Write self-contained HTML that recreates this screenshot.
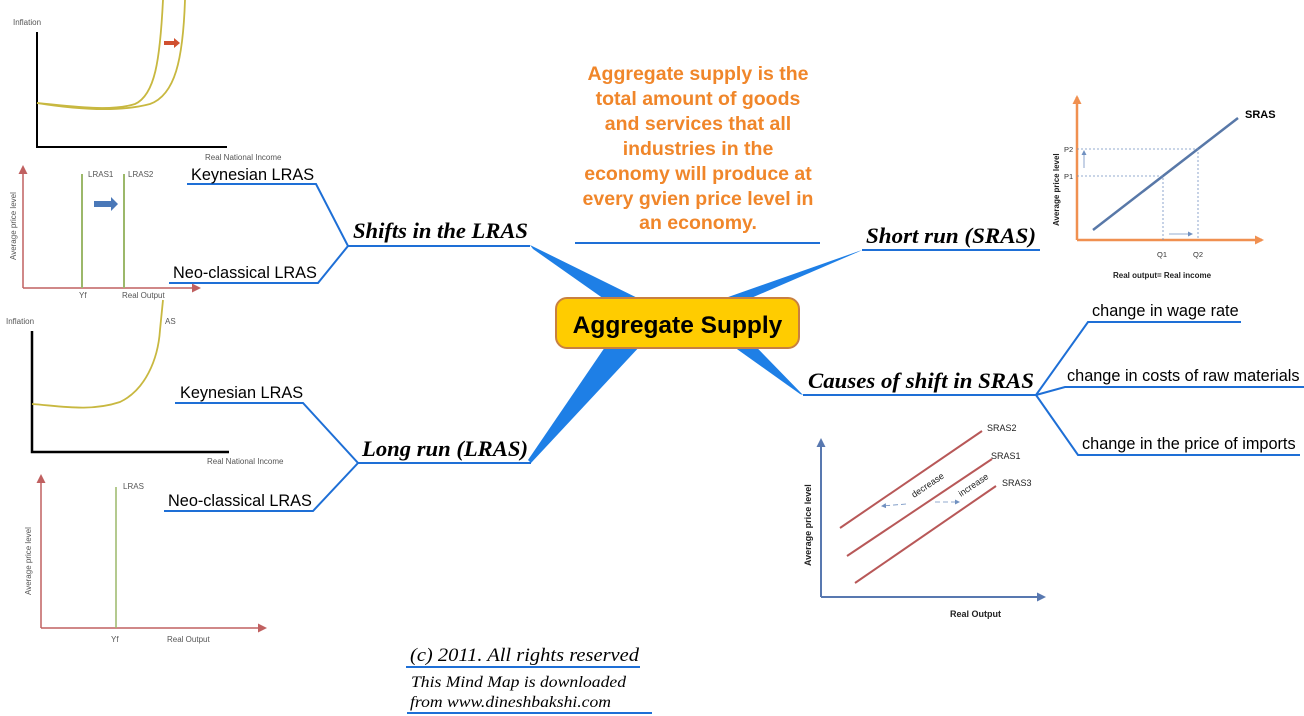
<!DOCTYPE html>
<html><head><meta charset="utf-8"><style>
html,body{margin:0;padding:0;background:#fff;}
svg{display:block;}
.s{font-family:"Liberation Sans",sans-serif;}
.t{font-family:"Liberation Serif",serif;font-style:italic;font-weight:bold;font-size:22.5px;fill:#000;}
.sub{font-family:"Liberation Sans",sans-serif;font-size:16.3px;fill:#000;}
.sm{font-family:"Liberation Sans",sans-serif;font-size:8px;fill:#555;}
.or{font-family:"Liberation Sans",sans-serif;font-weight:bold;font-size:19.5px;fill:#f0862a;}
</style></head><body>
<svg width="1304" height="716" viewBox="0 0 1304 716" xmlns="http://www.w3.org/2000/svg">
<defs>
<marker id="ar" markerUnits="userSpaceOnUse" markerWidth="9" markerHeight="9" refX="7" refY="4.5" orient="auto"><path d="M0,0 L9,4.5 L0,9 z" fill="context-stroke"/></marker>
<marker id="as" markerUnits="userSpaceOnUse" markerWidth="5" markerHeight="5" refX="4" refY="2.5" orient="auto"><path d="M0,0 L5,2.5 L0,5 z" fill="context-stroke"/></marker>
</defs>
<g fill="#1e7fe6">
<polygon points="530,245 533,249 648,330 662,310"/>
<polygon points="862,250 858,252 700,320 714,302"/>
<polygon points="531,463 528,460 618,328 642,344"/>
<polygon points="803,395 800,394 713,332 730,320"/>
</g>
<g stroke="#1e6fd6" stroke-width="2" fill="none">
<polyline points="348,246 530,246"/>
<polyline points="187,184 316,184 348,246 318,283 169,283"/>
<polyline points="862,250 1040,250"/>
<polyline points="358,463 531,463"/>
<polyline points="175,403 303,403 358,463 313,511 164,511"/>
<polyline points="803,395 1036,395"/>
<polyline points="1036,395 1088,322 1241,322"/>
<polyline points="1036,395 1065,387 1304,387"/>
<polyline points="1036,395 1078,455 1300,455"/>
<line x1="575" y1="243" x2="820" y2="243"/>
<line x1="406" y1="667" x2="640" y2="667"/>
<line x1="407" y1="713" x2="652" y2="713"/>
</g>
<rect x="556" y="298" width="243" height="50" rx="11" fill="#ffcc00" stroke="#c88040" stroke-width="2"/>
<text x="677.5" y="333" text-anchor="middle" class="s" font-weight="bold" font-size="24.5" fill="#000">Aggregate Supply</text>
<text x="353" y="238" class="t" textLength="175" lengthAdjust="spacingAndGlyphs">Shifts in the LRAS</text>
<text x="866" y="243" class="t" textLength="170" lengthAdjust="spacingAndGlyphs">Short run (SRAS)</text>
<text x="362" y="456" class="t" textLength="166" lengthAdjust="spacingAndGlyphs">Long run (LRAS)</text>
<text x="808" y="388" class="t" textLength="226" lengthAdjust="spacingAndGlyphs">Causes of shift in SRAS</text>
<text x="191" y="180" class="sub">Keynesian LRAS</text>
<text x="173" y="278" class="sub">Neo-classical LRAS</text>
<text x="180" y="398" class="sub">Keynesian LRAS</text>
<text x="168" y="506" class="sub">Neo-classical LRAS</text>
<text x="1092" y="316" class="sub">change in wage rate</text>
<text x="1067" y="381" class="sub">change in costs of raw materials</text>
<text x="1082" y="449" class="sub">change in the price of imports</text>
<g class="or" text-anchor="middle">
<text x="698" y="80">Aggregate supply is the</text>
<text x="698" y="105">total amount of goods</text>
<text x="698" y="130">and services that all</text>
<text x="698" y="155">industries in the</text>
<text x="698" y="180">economy will produce at</text>
<text x="698" y="205">every gvien price level in</text>
<text x="698" y="229">an economy.</text>
</g>
<text x="410" y="661" font-family="Liberation Serif,serif" font-style="italic" font-size="19" textLength="229" lengthAdjust="spacingAndGlyphs">(c) 2011. All rights reserved</text>
<text x="411" y="687" font-family="Liberation Serif,serif" font-style="italic" font-size="16" textLength="215" lengthAdjust="spacingAndGlyphs">This Mind Map is downloaded</text>
<text x="410" y="707" font-family="Liberation Serif,serif" font-style="italic" font-size="16" textLength="201" lengthAdjust="spacingAndGlyphs">from www.dineshbakshi.com</text>

<g stroke="#000" stroke-width="2" fill="none"><polyline points="37,32 37,147 227,147"/></g>
<path d="M37,103 C70,106 110,112 135,104 C155,95 160,60 163,0" stroke="#c8b840" stroke-width="1.8" fill="none"/>
<path d="M37,103 C80,110 120,112 150,104 C175,95 183,60 185,0" stroke="#c8b840" stroke-width="1.8" fill="none"/>
<polygon points="164,41 174,41 174,38 180,43 174,48 174,45 164,45" fill="#d05030"/>
<text x="13" y="25" class="sm">Inflation</text>
<text x="205" y="160" class="sm">Real National Income</text>
<g stroke="#c06060" stroke-width="1.5" fill="none"><line x1="23" y1="288" x2="23" y2="167" marker-end="url(#ar)"/><line x1="23" y1="288" x2="199" y2="288" marker-end="url(#ar)"/></g>
<g stroke="#9cb86a" stroke-width="2"><line x1="82" y1="174" x2="82" y2="288"/><line x1="124" y1="174" x2="124" y2="288"/></g>
<polygon points="94,201 111,201 111,197 118,204 111,211 111,207 94,207" fill="#4a78b8"/>
<text x="88" y="177" class="sm" font-size="6">LRAS1</text>
<text x="128" y="177" class="sm" font-size="6">LRAS2</text>
<text x="79" y="298" class="sm" font-size="6">Yf</text>
<text x="122" y="298" class="sm" font-size="6">Real Output</text>
<text transform="translate(16,260) rotate(-90)" class="sm" font-size="6">Average price level</text>
<g stroke="#000" stroke-width="2.5" fill="none"><polyline points="32,331 32,452 229,452"/></g>
<path d="M32,404 C60,406 90,412 120,402 C145,390 158,360 160,330 L163,300" stroke="#c8b840" stroke-width="1.8" fill="none"/>
<text x="6" y="324" class="sm">Inflation</text>
<text x="165" y="324" class="sm">AS</text>
<text x="207" y="464" class="sm">Real National Income</text>
<g stroke="#c06060" stroke-width="1.5" fill="none"><line x1="41" y1="628" x2="41" y2="476" marker-end="url(#ar)"/><line x1="41" y1="628" x2="265" y2="628" marker-end="url(#ar)"/></g>
<line x1="116" y1="487" x2="116" y2="628" stroke="#9cb86a" stroke-width="1.5"/>
<text x="123" y="489" class="sm" font-size="6.5">LRAS</text>
<text x="111" y="642" class="sm" font-size="6.5">Yf</text>
<text x="167" y="642" class="sm" font-size="6.5">Real Output</text>
<text transform="translate(31,595) rotate(-90)" class="sm" font-size="6.5">Average price level</text>
<g stroke="#f09050" stroke-width="2.5" fill="none"><line x1="1077" y1="240" x2="1077" y2="97" marker-end="url(#ar)"/><line x1="1077" y1="240" x2="1262" y2="240" marker-end="url(#ar)"/></g>
<line x1="1093" y1="230" x2="1238" y2="118" stroke="#5878a8" stroke-width="2.5"/>
<g stroke="#7090c0" stroke-width="0.8" stroke-dasharray="2,2" fill="none"><polyline points="1077,149 1198,149 1198,240"/><polyline points="1077,176 1163,176 1163,240"/></g>
<g stroke="#7090c0" stroke-width="0.8" fill="none"><line x1="1084" y1="168" x2="1084" y2="151" marker-end="url(#as)"/><line x1="1169" y1="234" x2="1192" y2="234" marker-end="url(#as)"/></g>
<text x="1245" y="118" class="s" font-weight="bold" font-size="11">SRAS</text>
<text x="1064" y="152" class="s" font-size="7.5" fill="#333">P2</text>
<text x="1064" y="179" class="s" font-size="7.5" fill="#333">P1</text>
<text x="1157" y="257" class="s" font-size="7.5" fill="#333">Q1</text>
<text x="1193" y="257" class="s" font-size="7.5" fill="#333">Q2</text>
<text x="1113" y="278" class="s" font-weight="bold" font-size="8" fill="#222">Real output= Real income</text>
<text transform="translate(1059,226) rotate(-90)" class="s" font-weight="bold" font-size="8" fill="#222">Average price level</text>
<g stroke="#5878b0" stroke-width="2" fill="none"><line x1="821" y1="597" x2="821" y2="440" marker-end="url(#ar)"/><line x1="821" y1="597" x2="1044" y2="597" marker-end="url(#ar)"/></g>
<g stroke="#b85858" stroke-width="2"><line x1="840" y1="528" x2="982" y2="431"/><line x1="847" y1="556" x2="992" y2="459"/><line x1="855" y1="583" x2="996" y2="486"/></g>
<g stroke="#7090c0" stroke-width="0.8" stroke-dasharray="5,3" fill="none"><line x1="906" y1="504" x2="882" y2="506" marker-end="url(#as)"/><line x1="935" y1="502" x2="959" y2="502" marker-end="url(#as)"/></g>
<text x="987" y="431" class="s" font-size="9" fill="#222">SRAS2</text>
<text x="991" y="459" class="s" font-size="9" fill="#222">SRAS1</text>
<text x="1002" y="486" class="s" font-size="9" fill="#222">SRAS3</text>
<text transform="translate(914,498) rotate(-34)" class="s" font-size="9" fill="#222">decrease</text>
<text transform="translate(961,497) rotate(-34)" class="s" font-size="9" fill="#222">increase</text>
<text x="950" y="617" class="s" font-weight="bold" font-size="9" fill="#222">Real Output</text>
<text transform="translate(811,566) rotate(-90)" class="s" font-weight="bold" font-size="9" fill="#222">Average price level</text>
</svg>
</body></html>
